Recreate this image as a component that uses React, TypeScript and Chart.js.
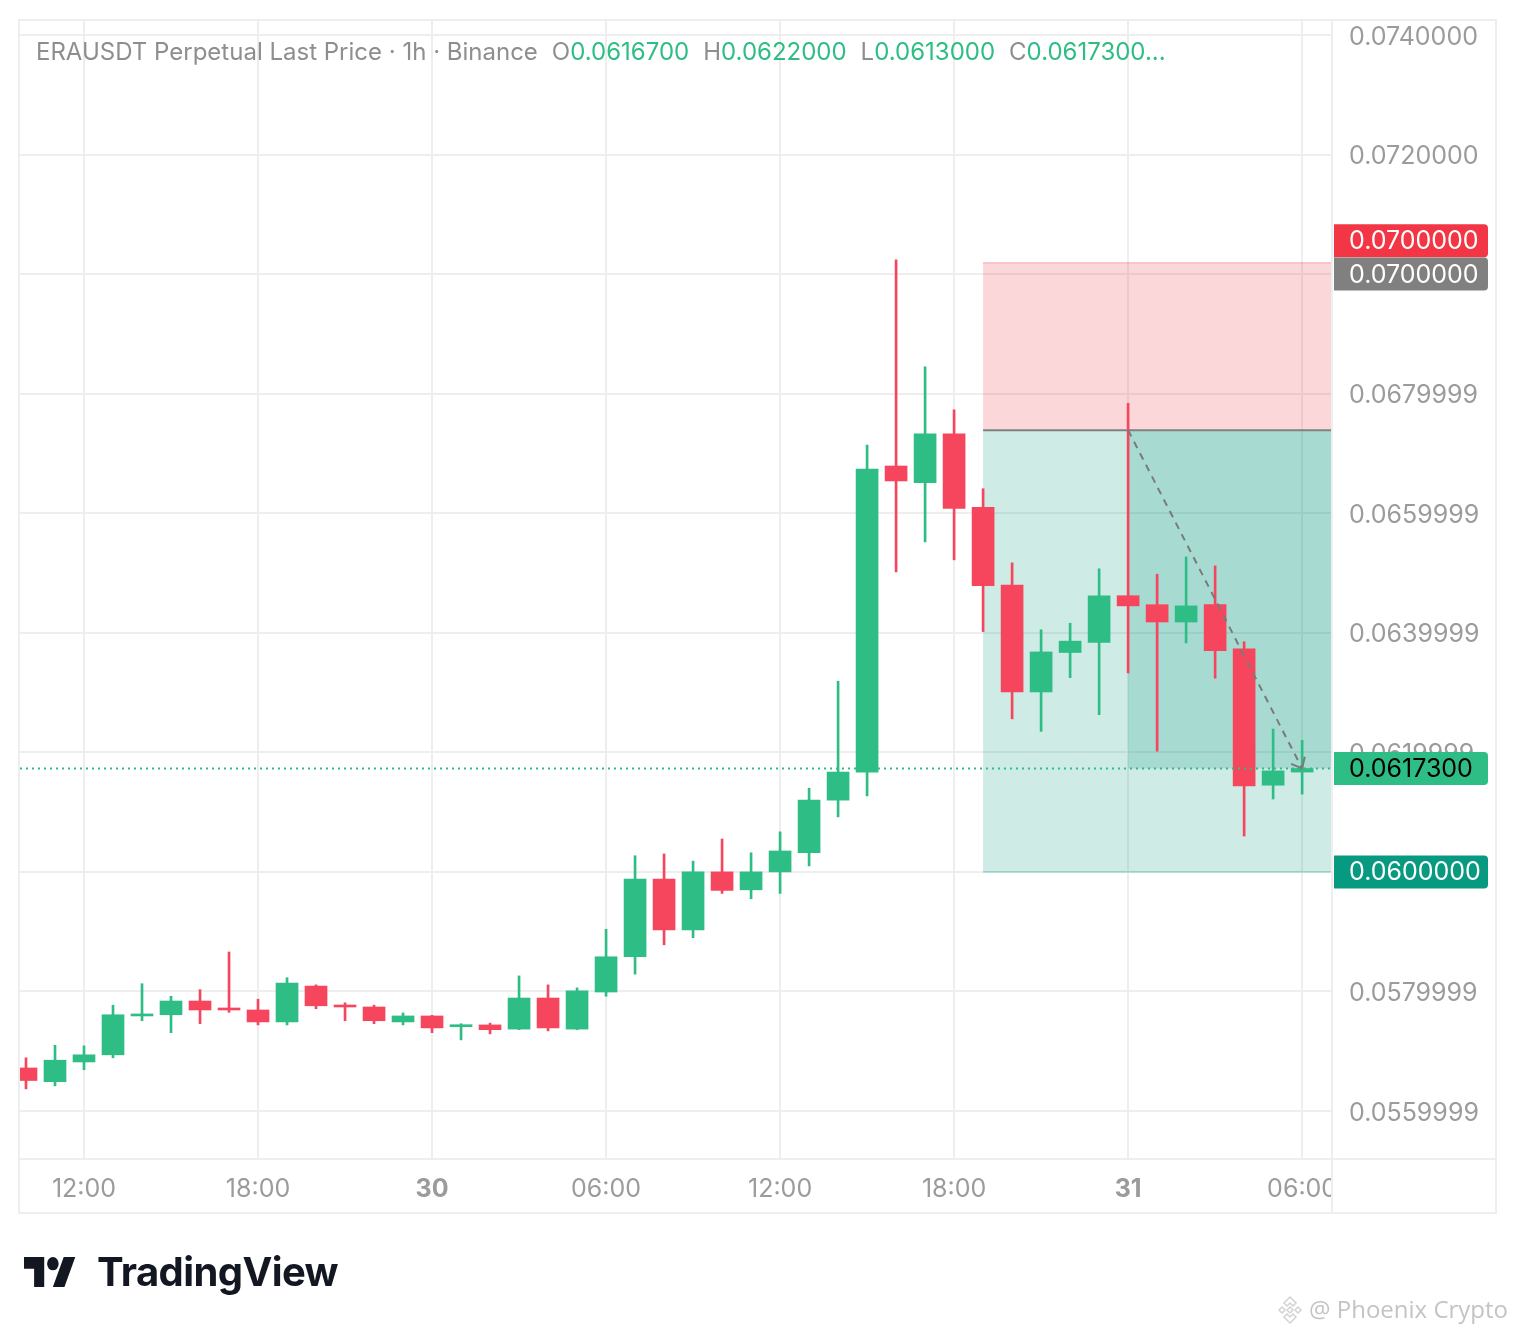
import React, { useEffect, useRef } from "react";
import { Chart, registerables } from "chart.js";

Chart.register(...registerables);

// ---- data: 1h candles from 29th 10:00 to 31st 06:00 ----
const opens = [
  0.05672, 0.05649, 0.05682, 0.05694, 0.05759, 0.05761, 0.05784, 0.05772, 0.05769, 0.05749,
  0.05809, 0.05777, 0.05774, 0.05749, 0.05759, 0.05741, 0.05744, 0.05737, 0.05789, 0.05737,
  0.05799, 0.05858, 0.05988, 0.05903, 0.06000, 0.05970, 0.06000, 0.06032, 0.06120, 0.06167,
  0.06679, 0.06651, 0.06733, 0.06610, 0.06480, 0.06301, 0.06367, 0.06384, 0.06462, 0.06447,
  0.06418, 0.06447, 0.06373, 0.06145, 0.06167,
];
const highs = [
  0.05689, 0.05710, 0.05709, 0.05777, 0.05813, 0.05792, 0.05803, 0.05866, 0.05787, 0.05823,
  0.05811, 0.05781, 0.05777, 0.05764, 0.05760, 0.05746, 0.05747, 0.05826, 0.05811, 0.05806,
  0.05904, 0.06027, 0.06030, 0.06018, 0.06055, 0.06032, 0.06067, 0.06140, 0.06319, 0.06714,
  0.07024, 0.06845, 0.06773, 0.06641, 0.06517, 0.06405, 0.06416, 0.06507, 0.06784, 0.06498,
  0.06527, 0.06512, 0.06385, 0.06239, 0.06220,
];
const lows = [
  0.05637, 0.05642, 0.05669, 0.05689, 0.05751, 0.05731, 0.05746, 0.05765, 0.05744, 0.05744,
  0.05771, 0.05751, 0.05746, 0.05744, 0.05731, 0.05719, 0.05729, 0.05736, 0.05734, 0.05736,
  0.05792, 0.05829, 0.05878, 0.05890, 0.05964, 0.05955, 0.05964, 0.06010, 0.06092, 0.06127,
  0.06502, 0.06552, 0.06522, 0.06402, 0.06256, 0.06235, 0.06325, 0.06263, 0.06333, 0.06202,
  0.06383, 0.06324, 0.06060, 0.06122, 0.06130,
];
const closes = [
  0.05651, 0.05685, 0.05694, 0.05761, 0.05762, 0.05784, 0.05769, 0.05769, 0.05749, 0.05814,
  0.05776, 0.05774, 0.05751, 0.05759, 0.05739, 0.05744, 0.05736, 0.05789, 0.05739, 0.05801,
  0.05858, 0.05988, 0.05903, 0.06000, 0.05969, 0.06000, 0.06035, 0.06120, 0.06167, 0.06674,
  0.06654, 0.06733, 0.06608, 0.06479, 0.06301, 0.06368, 0.06386, 0.06462, 0.06445, 0.06418,
  0.06445, 0.06370, 0.06144, 0.06169, 0.06173,
];

const xTickIndices = [2, 8, 14, 20, 26, 32, 38, 44];
const xTickLabels = ["12:00", "18:00", "30", "06:00", "12:00", "18:00", "31", "06:00"];
const xTickBold = [false, false, true, false, false, false, true, false];

const yTickValues = [0.056, 0.058, 0.06, 0.062, 0.064, 0.066, 0.068, 0.07, 0.072, 0.074];
const yTickLabels = [
  "0.0559999", "0.0579999", "0.0600000", "0.0619999", "0.0639999",
  "0.0659999", "0.0679999", "0.0700000", "0.0720000", "0.0740000",
];

// short position tool
const positionStartIndex = 33;
const entryIndex = 38;
const lastIndex = 44;
const stopPrice = 0.07019;
const entryPrice = 0.06739;
const targetPrice = 0.06;
const lastPrice = 0.06173;

// price-axis tags
const tagPrices = [0.07056, 0.07, 0.06173, 0.06];
const tagTexts = ["0.0700000", "0.0700000", "0.0617300", "0.0600000"];
const tagBg = ["#F23645", "#808080", "#2EBD85", "#089981"];
const tagFg = ["#FFFFFF", "#FFFFFF", "#000000", "#FFFFFF"];

const titleText = "ERAUSDT Perpetual Last Price · 1h · Binance";
const ohlcKeys = ["O", "H", "L", "C"];
const ohlcValues = ["0.0616700", "0.0622000", "0.0613000", "0.0617300..."];

const UP = "#2EBD85";
const DOWN = "#F6465D";
const GRID = "#EEEEEE";
const AXIS_TEXT = "#9B9B9B";
const FONT = "Inter, 'Noto Sans', sans-serif";
const AXIS_SIZE = 25;

export default function App() {
  const ref = useRef<HTMLCanvasElement | null>(null);

  useEffect(() => {
    const canvas = ref.current;
    if (!canvas) return;
    const colors = opens.map((o, i) => (closes[i] >= o ? UP : DOWN));

    const overlay = {
      id: "overlay",
      beforeDatasetsDraw(chart: any) {
        const { ctx, chartArea, scales } = chart;
        const x = scales.x;
        const y = scales.y;
        const xs = x.getPixelForValue(positionStartIndex);
        const xe = chartArea.right;
        const yS = y.getPixelForValue(stopPrice);
        const yE = y.getPixelForValue(entryPrice);
        const yT = y.getPixelForValue(targetPrice);
        const xEn = x.getPixelForValue(entryIndex);
        const yL = y.getPixelForValue(lastPrice);
        ctx.save();
        ctx.fillStyle = "rgba(242,54,69,0.2)";
        ctx.fillRect(xs, yS, xe - xs, yE - yS);
        ctx.fillStyle = "rgba(8,153,129,0.2)";
        ctx.fillRect(xs, yE, xe - xs, yT - yE);
        ctx.fillRect(xEn, yE, xe - xEn, yL - yE);
        ctx.strokeStyle = "rgba(242,54,69,0.25)";
        ctx.lineWidth = 1.5;
        ctx.beginPath();
        ctx.moveTo(xs, yS);
        ctx.lineTo(xe, yS);
        ctx.stroke();
        ctx.strokeStyle = "rgba(8,153,129,0.3)";
        ctx.beginPath();
        ctx.moveTo(xs, yT);
        ctx.lineTo(xe, yT);
        ctx.stroke();
        ctx.strokeStyle = "#808080";
        ctx.lineWidth = 2;
        ctx.beginPath();
        ctx.moveTo(xs, yE);
        ctx.lineTo(xe, yE);
        ctx.stroke();
        ctx.restore();
      },
      afterDatasetsDraw(chart: any) {
        const { ctx, chartArea, scales } = chart;
        const x = scales.x;
        const y = scales.y;
        const x0 = x.getPixelForValue(entryIndex);
        const y0 = y.getPixelForValue(entryPrice);
        const x1 = x.getPixelForValue(lastIndex);
        const y1 = y.getPixelForValue(lastPrice);
        ctx.save();
        // last price dotted line
        ctx.strokeStyle = UP;
        ctx.lineWidth = 2;
        ctx.setLineDash([2, 4]);
        ctx.beginPath();
        ctx.moveTo(chartArea.left, y1);
        ctx.lineTo(chartArea.right, y1);
        ctx.stroke();
        // dashed trend line with arrow
        ctx.strokeStyle = "#7A7A7A";
        ctx.lineWidth = 2;
        ctx.setLineDash([7, 6]);
        ctx.beginPath();
        ctx.moveTo(x0, y0);
        ctx.lineTo(x1, y1);
        ctx.stroke();
        ctx.setLineDash([]);
        const ang = Math.atan2(y0 - y1, x0 - x1);
        const len = 12;
        ctx.beginPath();
        ctx.moveTo(x1 + len * Math.cos(ang + 0.7), y1 + len * Math.sin(ang + 0.7));
        ctx.lineTo(x1, y1);
        ctx.lineTo(x1 + len * Math.cos(ang - 0.7), y1 + len * Math.sin(ang - 0.7));
        ctx.stroke();
        ctx.restore();
      },
      afterDraw(chart: any) {
        const { ctx, chartArea, scales } = chart;
        const y = scales.y;
        const L = chartArea.left - 1;
        const T = chartArea.top;
        const R = chartArea.right;
        const B = chartArea.bottom;
        const RR = R + 164;
        const BB = B + 54;
        ctx.save();
        // clip the time labels at the price axis
        ctx.fillStyle = "#FFFFFF";
        ctx.fillRect(R + 1, B + 1, RR - R - 2, BB - B - 2);
        // frame
        ctx.strokeStyle = GRID;
        ctx.lineWidth = 2;
        ctx.beginPath();
        ctx.rect(L, T, RR - L, BB - T);
        ctx.moveTo(R, T);
        ctx.lineTo(R, BB);
        ctx.moveTo(L, B);
        ctx.lineTo(RR, B);
        ctx.stroke();
        // price tags
        ctx.font = `${AXIS_SIZE}px ${FONT}`;
        ctx.textBaseline = "middle";
        ctx.textAlign = "left";
        tagPrices.forEach((p, i) => {
          const yc = y.getPixelForValue(p);
          const h = 33;
          const x0 = R + 2;
          const w = 154;
          const r = 4;
          ctx.fillStyle = tagBg[i];
          ctx.beginPath();
          ctx.moveTo(x0, yc - h / 2);
          ctx.lineTo(x0 + w - r, yc - h / 2);
          ctx.quadraticCurveTo(x0 + w, yc - h / 2, x0 + w, yc - h / 2 + r);
          ctx.lineTo(x0 + w, yc + h / 2 - r);
          ctx.quadraticCurveTo(x0 + w, yc + h / 2, x0 + w - r, yc + h / 2);
          ctx.lineTo(x0, yc + h / 2);
          ctx.closePath();
          ctx.fill();
          ctx.fillStyle = tagFg[i];
          ctx.fillText(tagTexts[i], R + 17, yc + 1);
        });
        ctx.restore();
      },
    };

    const chart = new Chart(canvas, {
      type: "bar",
      data: {
        datasets: [
          {
            label: "body",
            data: opens.map((o, i) => ({ x: i, y: [o, closes[i]] })) as any,
            backgroundColor: colors,
            borderWidth: 0,
            barThickness: 22,
            minBarLength: 2,
            grouped: false,
          } as any,
          {
            label: "wick",
            data: lows.map((l, i) => ({ x: i, y: [l, highs[i]] })) as any,
            backgroundColor: colors,
            borderWidth: 0,
            barThickness: 2,
            grouped: false,
          } as any,
        ],
      },
      options: {
        animation: false,
        responsive: false,
        layout: { autoPadding: false, padding: { left: 20, top: 20, right: 0, bottom: 0 } },
        plugins: { legend: { display: false }, tooltip: { enabled: false } },
        scales: {
          x: {
            type: "linear",
            position: "bottom",
            min: -0.207,
            max: 45.03,
            offset: false,
            grid: { color: GRID, lineWidth: 2, drawTicks: false, offset: false },
            border: { display: false },
            afterBuildTicks: (s: any) => {
              s.ticks = xTickIndices.map((v) => ({ value: v }));
            },
            afterFit: (s: any) => {
              s.height = 175;
              s.paddingLeft = 0;
              s.paddingRight = 0;
            },
            ticks: {
              autoSkip: false,
              maxRotation: 0,
              padding: 15,
              color: AXIS_TEXT,
              font: (c: any) => ({
                family: FONT,
                size: AXIS_SIZE,
                weight: xTickBold[c.index] ? "bold" : "normal",
              }),
              callback: (v: any) => {
                const k = xTickIndices.indexOf(Number(v));
                return k >= 0 ? xTickLabels[k] : "";
              },
            },
          } as any,
          y: {
            type: "linear",
            position: "right",
            min: 0.055197,
            max: 0.074251,
            grid: { color: GRID, lineWidth: 2, drawTicks: false },
            border: { display: false },
            afterBuildTicks: (s: any) => {
              s.ticks = yTickValues.map((v) => ({ value: v }));
            },
            afterFit: (s: any) => {
              s.width = 184;
              s.paddingTop = 0;
              s.paddingBottom = 0;
            },
            ticks: {
              autoSkip: false,
              padding: 17,
              labelOffset: 2,
              color: AXIS_TEXT,
              font: { family: FONT, size: AXIS_SIZE },
              callback: (_v: any, i: number) => yTickLabels[i],
            },
          } as any,
        },
      },
      plugins: [overlay],
    });
    return () => chart.destroy();
  }, []);

  return (
    <div
      style={{
        position: "absolute",
        left: 0,
        top: 0,
        width: 1516,
        height: 1334,
        background: "#FFFFFF",
        fontFamily: FONT,
        overflow: "hidden",
      }}
    >
      <canvas
        ref={ref}
        width={1516}
        height={1334}
        style={{ position: "absolute", left: 0, top: 0, width: 1516, height: 1334 }}
      />
      <div
        style={{
          position: "absolute",
          left: 36,
          top: 37,
          fontSize: 24,
          lineHeight: "30px",
          color: "#8E8E8E",
          whiteSpace: "nowrap",
        }}
      >
        <span>{titleText}</span>
        {ohlcKeys.map((k, i) => (
          <span key={k} style={{ marginLeft: 14 }}>
            {k}
            <span style={{ color: UP }}>{ohlcValues[i]}</span>
          </span>
        ))}
      </div>
      <svg
        style={{ position: "absolute", left: 24, top: 1257 }}
        width={52}
        height={30}
        viewBox="0 4 36 18"
        preserveAspectRatio="none"
      >
        <path d="M14 22H7V11H0V4h14v18zM28 22h-8l7.5-18h8L28 22z" fill="#131722" />
        <circle cx="20" cy="8" r="4" fill="#131722" />
      </svg>
      <div
        style={{
          position: "absolute",
          left: 97,
          top: 1247,
          fontSize: 40,
          lineHeight: "50px",
          fontWeight: 700,
          color: "#131722",
          letterSpacing: -0.6,
          whiteSpace: "nowrap",
        }}
      >
        TradingView
      </div>
      <svg style={{ position: "absolute", left: 1275, top: 1295 }} width={30} height={30} viewBox="0 0 30 30">
        <g fill="none" stroke="#D2D2D2" strokeWidth={1.5}>
          <path d="M15 2 L21 8 L18 11 L15 8 L12 11 L9 8 Z" />
          <path d="M15 28 L21 22 L18 19 L15 22 L12 19 L9 22 Z" />
          <path d="M4 15 L7 12 L10 15 L7 18 Z" />
          <path d="M20 15 L23 12 L26 15 L23 18 Z" />
          <path d="M15 12 L18 15 L15 18 L12 15 Z" />
        </g>
      </svg>
      <div
        style={{
          position: "absolute",
          left: 1309,
          top: 1294,
          fontSize: 24,
          lineHeight: "30px",
          color: "#C4C4C4",
          whiteSpace: "nowrap",
          fontFamily: "'Open Sans', sans-serif",
        }}
      >
        @ Phoenix Crypto
      </div>
    </div>
  );
}
